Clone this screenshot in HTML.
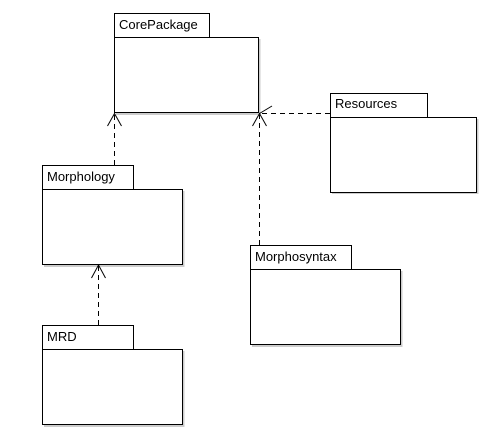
<!DOCTYPE html>
<html><head><meta charset="utf-8"><style>html,body{margin:0;padding:0;background:#fff}</style></head>
<body>
<svg width="493" height="442" xmlns="http://www.w3.org/2000/svg" style="display:block">
<g fill="none" stroke="#ccc" stroke-width="2">
<path d="M259.5 39v75H116"/><path d="M477.5 119v74H332"/><path d="M183.5 191v75H44"/><path d="M183.5 351v75H44"/><path d="M401.5 271v75H252"/>
</g>
<g fill="#fff" stroke="#000" stroke-width="1">
<rect x="114.5" y="13.5" width="95" height="24"/><rect x="114.5" y="37.5" width="144" height="75"/>
<rect x="330.5" y="93.5" width="97" height="24"/><rect x="330.5" y="117.5" width="146" height="75"/>
<rect x="42.5" y="165.5" width="91" height="24"/><rect x="42.5" y="189.5" width="140" height="75"/>
<rect x="42.5" y="325.5" width="91" height="24"/><rect x="42.5" y="349.5" width="140" height="75"/>
<rect x="250.5" y="245.5" width="101" height="24"/><rect x="250.5" y="269.5" width="150" height="75"/>
</g>
<g stroke="#000" stroke-width="1" fill="none" stroke-dasharray="5,4">
<path d="M114.5 165V114"/><path d="M259.5 245V115"/><path d="M330 113.5H261"/><path d="M98.5 325V266"/>
</g>
<g stroke="#000" stroke-width="1" fill="none">
<path d="M107.5 126L114.5 113.5L121.5 126"/>
<path d="M252.5 126L259.5 113.5L266.5 126"/>
<path d="M272 106L259.5 113.5"/>
<path d="M91.5 278L98.5 265L105.5 278"/>
</g>
<g font-family="Liberation Sans, sans-serif" font-size="13" fill="#000">
<text x="119" y="29">CorePackage</text>
<text x="335" y="108">Resources</text>
<text x="47" y="181">Morphology</text>
<text x="47" y="341">MRD</text>
<text x="255" y="261">Morphosyntax</text>
</g>
</svg>
</body></html>
